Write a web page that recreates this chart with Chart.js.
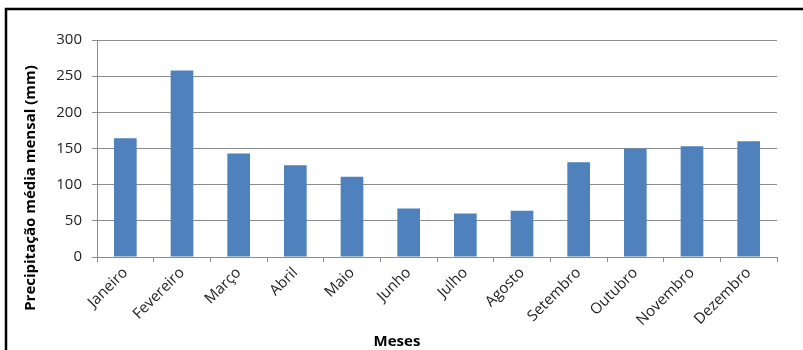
<!DOCTYPE html>
<html>
<head>
<meta charset="utf-8">
<script src="https://cdn.jsdelivr.net/npm/chart.js@4.4.0/dist/chart.umd.min.js"></script>
<style>
  html, body { margin: 0; padding: 0; background: #fff; }
</style>
</head>
<body>
<canvas id="Cnvs" width="803" height="350"></canvas>
<script>
var meses = ['Janeiro', 'Fevereiro', 'Março', 'Abril', 'Maio', 'Junho', 'Julho',
             'Agosto', 'Setembro', 'Outubro', 'Novembro', 'Dezembro'];
var precipitacao = [164, 258, 143, 127, 111, 67, 60, 64, 131, 150, 153, 160];
var yMin = 0, yMax = 300, yStep = 50;
var yTitle = 'Precipitação média mensal (mm)';
var xTitle = 'Meses';

var fonte = "'Open Sans', sans-serif";

// moldura preta e títulos dos eixos (posicionados como no Excel)
var extras = {
  id: 'extras',
  afterDraw: function(chart) {
    var ctx = chart.ctx;
    ctx.save();
    ctx.strokeStyle = '#000';
    ctx.lineWidth = 2.5;
    ctx.beginPath();
    ctx.moveTo(6, 352);
    ctx.lineTo(6, 9);
    ctx.lineTo(805, 9);
    ctx.stroke();

    ctx.fillStyle = '#000';
    ctx.font = 'bold 15px ' + fonte;
    ctx.textAlign = 'center';
    ctx.textBaseline = 'middle';
    ctx.fillText(xTitle, 397, 342);

    ctx.translate(31, 188);
    ctx.rotate(-Math.PI / 2);
    ctx.fillText(yTitle, 0, 0);
    ctx.restore();
  }
};

var grade = '#8c8c8c';

var barChart = new Chart(document.getElementById('Cnvs'), {
  type: 'bar',
  data: {
    labels: meses,
    datasets: [{
      data: precipitacao,
      backgroundColor: '#4f81bd',
      borderWidth: 0,
      barPercentage: 0.4,
      categoryPercentage: 1.0
    }]
  },
  options: {
    responsive: false,
    animation: false,
    layout: { padding: { top: 40, right: 26, left: 0, bottom: 0 } },
    plugins: {
      legend: { display: false },
      tooltip: { enabled: false }
    },
    scales: {
      x: {
        grid: {
          display: true,
          offset: true,
          drawOnChartArea: false,
          drawTicks: true,
          tickLength: 5,
          color: grade
        },
        border: { display: true, color: grade },
        ticks: {
          minRotation: 45,
          maxRotation: 45,
          padding: 2,
          color: '#222',
          font: { family: fonte, size: 15 }
        },
        afterFit: function(scale) { scale.height = 93; }
      },
      y: {
        min: yMin,
        max: yMax,
        grid: { color: grade, tickLength: 5 },
        border: { display: true, color: grade },
        ticks: {
          stepSize: yStep,
          padding: 10,
          color: '#222',
          font: { family: fonte, size: 15 }
        },
        afterFit: function(scale) { scale.width = 97; }
      }
    }
  },
  plugins: [extras]
});
</script>
</body>
</html>
